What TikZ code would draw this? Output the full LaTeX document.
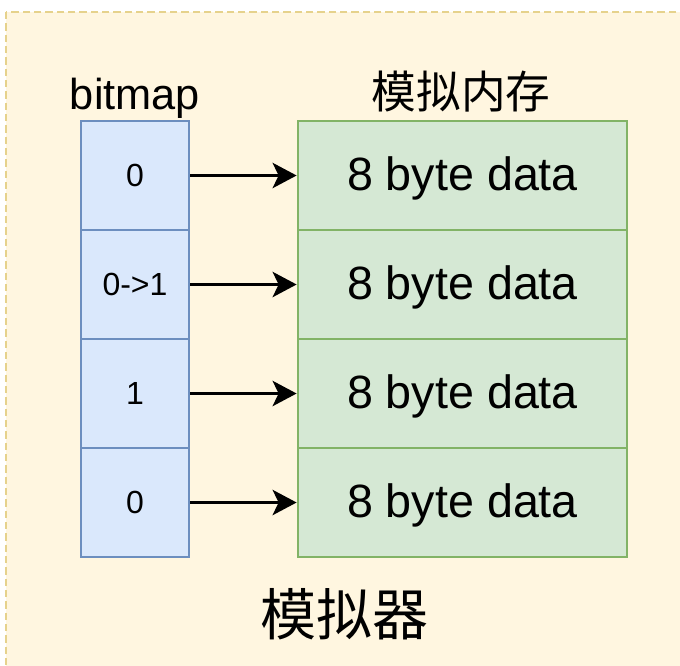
\documentclass[tikz,border=0pt]{standalone}
\usepackage{fontspec}
\setmainfont{Liberation Sans}
\newfontfamily\cjk{Noto Sans CJK SC}
\usetikzlibrary{arrows.meta}
\definecolor{bgfill}{HTML}{FFF6E0}
\definecolor{bgline}{HTML}{E6D28C}
\definecolor{bluefill}{HTML}{DAE8FC}
\definecolor{blueline}{HTML}{6C8EBF}
\definecolor{greenfill}{HTML}{D5E8D4}
\definecolor{greenline}{HTML}{82B366}
\tikzset{
  bitcell/.style={draw=blueline, fill=bluefill, line width=2.1pt, inner sep=0pt,
    minimum width=81pt, minimum height=81.75pt, font=\fontsize{24}{28}\selectfont,
    text height=17.2pt, text depth=-2pt},
  memcell/.style={draw=greenline, fill=greenfill, line width=2.1pt, inner sep=0pt,
    minimum width=246.75pt, minimum height=81.75pt, font=\fontsize{35}{40}\selectfont,
    text height=25.2pt, text depth=2pt},
  link/.style={line width=1.8pt, -{Stealth[length=18pt, width=19pt, inset=4.5pt]}},
  lbl/.style={inner sep=0pt, anchor=base}
}
\begin{document}
\begin{tikzpicture}[x=0.75pt, y=-0.75pt]
\useasboundingbox (0,0) rectangle (680,665);
\clip (0,0) rectangle (680,665);
\fill[white] (0,0) rectangle (680,665);
\draw[fill=bgfill, draw=bgline, line width=1.5pt, dash pattern=on 5.5pt off 3pt] (6,12) rectangle (700,690);
% bitmap column
\node[bitcell] (b1) at (135,175.5) {0};
\node[bitcell] (b2) at (135,284.5) {0->1};
\node[bitcell] (b3) at (135,393.5) {1};
\node[bitcell] (b4) at (135,502.5) {0};
% memory column
\node[memcell] (m1) at (462.5,175.5) {8 byte data};
\node[memcell] (m2) at (462.5,284.5) {8 byte data};
\node[memcell] (m3) at (462.5,393.5) {8 byte data};
\node[memcell] (m4) at (462.5,502.5) {8 byte data};
% arrows
\draw[link] (b1.east) -- (m1.west);
\draw[link] (b2.east) -- (m2.west);
\draw[link] (b3.east) -- (m3.west);
\draw[link] (b4.east) -- (m4.west);
% labels
\node[lbl, font=\fontsize{32.5}{36}\selectfont] (tbit) at (135,109) {bitmap};
\node[lbl, font=\cjk\fontsize{33.5}{38}\selectfont] (tmem) at (461,108) {模拟内存};
\node[lbl, font=\cjk\fontsize{42}{48}\selectfont] (tsim) at (344,635) {模拟器};
\end{tikzpicture}
\end{document}
